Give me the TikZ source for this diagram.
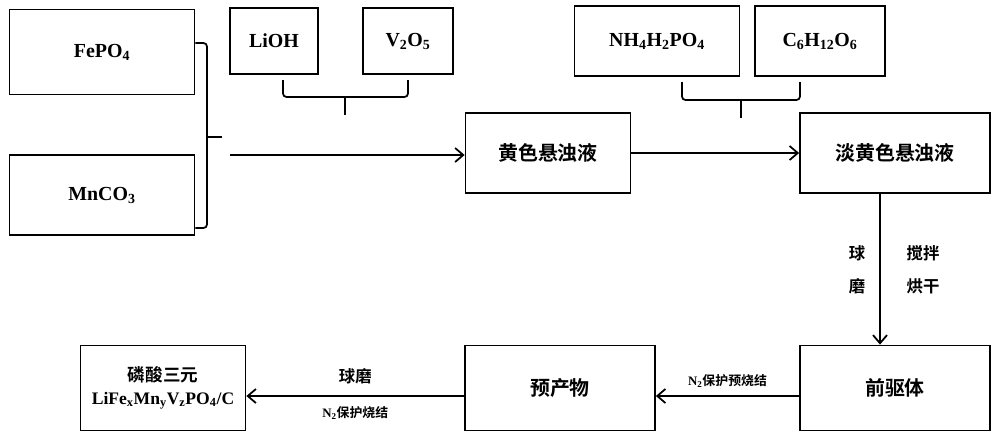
\documentclass[tikz,border=0pt]{standalone}
\usepackage{fontspec}
\setmainfont{Liberation Serif}
\newfontfamily\cjk{Noto Sans CJK SC}[BoldFont={Noto Sans CJK SC Bold}]
\usetikzlibrary{positioning,arrows.meta}
\begin{document}
\begin{tikzpicture}[>={Straight Barb[length=7pt,width=12pt]}, x=0.03cm, y=-0.03cm, line width=1.5pt,
  box/.style={draw, rectangle, minimum width=#1*0.03cm, minimum height=2.4cm, font=\bfseries\fontsize{17}{20}\selectfont, align=center, inner sep=0pt},
  box/.default=170,
  zh/.style={font=\cjk\bfseries\fontsize{17}{20}\selectfont},
  lab/.style={font=\cjk\bfseries\fontsize{14}{16}\selectfont, align=center}]
\useasboundingbox (0,0) rectangle (1000,441);

% raw materials
\node [box=185, minimum height=2.55cm] (fepo) at (102,52) {FePO$_\mathbf{4}$};
\node [box=185, minimum height=2.4cm] (mnco) at (102,195) {MnCO$_\mathbf{3}$};
\node [box=88, minimum height=2cm] (lioh) at (274,41) {LiOH};
\node [box=90, minimum height=2cm] (vo) at (408,41) {V$_\mathbf{2}$O$_\mathbf{5}$};
\node [box=165, minimum height=2.1cm] (nhpo) at (657,41) {NH$_\mathbf{4}$H$_\mathbf{2}$PO$_\mathbf{4}$};
\node [box=130, minimum height=2.1cm] (glu) at (820,41) {C$_\mathbf{6}$H$_\mathbf{12}$O$_\mathbf{6}$};

% process
\node [box=165, zh] (yel) at (548,153) {黄色悬浊液};
\node [box=190, zh] (pale) at (895,153) {淡黄色悬浊液};
\node [box=190, minimum height=2.55cm, zh] (prec) at (895,388) {前驱体};
\node [box=190, minimum height=2.55cm, zh] (pre) at (560,388) {预产物};
\node [box=165, minimum height=2.55cm, font=\bfseries\fontsize{15}{19}\selectfont] (prod) at (163,388)
  {{\cjk\bfseries 磷酸三元}\\LiFe$_\mathbf{x}$Mn$_\mathbf{y}$V$_\mathbf{z}$PO$_\mathbf{4}$/C};

% braces
\draw [rounded corners=3pt] (fepo.east |- 0,43) -- (207,43) -- (207,228) -- (mnco.east |- 0,228);
\draw (207,137) -- (222,137);
\draw [rounded corners=3pt] (283,80) -- (283,97) -- (408,97) -- (408,80);
\draw (345,97) -- (345,115);
\draw [rounded corners=3pt] (682,82) -- (682,100) -- (800,100) -- (800,82);
\draw (741,100) -- (741,118);

% arrows
\coordinate (s1) at (230,155);
\draw [->] (s1) -- (yel.west |- s1);
\draw [->] (yel.east) -- (pale.west);
\draw [->] (pale.south -| 880,0) -- (prec.north -| 880,0);
\node [lab] (l1) at (857,270) {球\\[12pt]磨};
\node [lab] (l2) at (923,270) {搅拌\\[12pt]烘干};
\draw [->] (prec.west |- 0,396) -- (pre.east |- 0,396)
  node [midway, above=3pt, font=\bfseries\fontsize{11}{13}\selectfont] {N$_\mathbf{2}${\cjk\bfseries 保护预烧结}};
\draw [->] (pre.west |- 0,396) -- (prod.east |- 0,396)
  node [midway, above=6pt, lab] {球磨}
  node [midway, below=5pt, font=\bfseries\fontsize{11}{13}\selectfont] {N$_\mathbf{2}${\cjk\bfseries 保护烧结}};
\end{tikzpicture}
\end{document}
